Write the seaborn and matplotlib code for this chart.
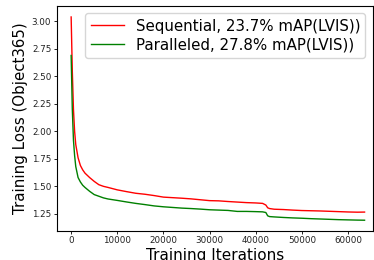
import numpy as np
import matplotlib
matplotlib.use("Agg")
import matplotlib.pyplot as plt
import seaborn as sns

# values
iters = [0, 250, 500, 750, 1000, 1500, 2000, 2500, 3000, 4000, 5000, 6000, 7000, 8000,
         10000, 12000, 14000, 16000, 18000, 20000, 22000, 24000, 26000, 28000, 30000,
         32000, 34000, 36000, 38000, 40000, 41500, 42200, 42600, 43000, 44000, 46000,
         48000, 50000, 52000, 54000, 56000, 58000, 60000, 62000, 63600]
seq_loss = [3.04, 2.55, 2.20, 2.00, 1.88, 1.76, 1.69, 1.65, 1.62, 1.58, 1.545, 1.515, 1.50, 1.49,
            1.468, 1.452, 1.437, 1.428, 1.416, 1.402, 1.397, 1.392, 1.386, 1.378, 1.370,
            1.368, 1.362, 1.357, 1.352, 1.349, 1.345, 1.330, 1.305, 1.298, 1.292, 1.289,
            1.284, 1.280, 1.278, 1.276, 1.273, 1.270, 1.267, 1.265, 1.266]
par_loss = [2.69, 2.20, 1.92, 1.78, 1.68, 1.58, 1.54, 1.51, 1.49, 1.455, 1.425, 1.41, 1.395, 1.385,
            1.372, 1.358, 1.345, 1.334, 1.322, 1.314, 1.308, 1.302, 1.298, 1.293, 1.287,
            1.284, 1.281, 1.272, 1.272, 1.270, 1.268, 1.262, 1.232, 1.225, 1.222, 1.217,
            1.213, 1.210, 1.206, 1.203, 1.200, 1.197, 1.195, 1.193, 1.192]
labels = ["Sequential, 23.7% mAP(LVIS))", "Paralleled, 27.8% mAP(LVIS))"]
colors = ["red", "green"]
x_ticks = [0, 10000, 20000, 30000, 40000, 50000, 60000]
y_ticks = [1.25, 1.50, 1.75, 2.00, 2.25, 2.50, 2.75, 3.00]

fig = plt.figure(figsize=(3.74, 2.6), dpi=100)
ax = fig.add_axes([0.152, 0.112, 0.845, 0.865])

for loss, lab, col in zip([seq_loss, par_loss], labels, colors):
  sns.lineplot(x=iters, y=loss, color=col, label=lab, linewidth=1.0, ax=ax)

ax.set_xlim(-3100, 65400)
ax.set_ylim(1.095, 3.14)
ax.set_xticks(x_ticks)
ax.set_yticks(y_ticks)
ax.tick_params(labelsize=6.3, length=2.5, width=0.6, pad=1.5, labelcolor="#222222")
ax.set_xlabel("Training Iterations", fontsize=11, labelpad=1.5)
ax.set_ylabel("Training Loss (Object365)", fontsize=10.8, labelpad=3)
for s in ax.spines.values():
  s.set_linewidth(0.8)
ax.legend(loc="upper right", fontsize=10.8, handlelength=2.2, borderaxespad=0.5,
          labelspacing=0.25, handletextpad=0.8, borderpad=0.35)

fig.savefig("out.png", dpi=100)
